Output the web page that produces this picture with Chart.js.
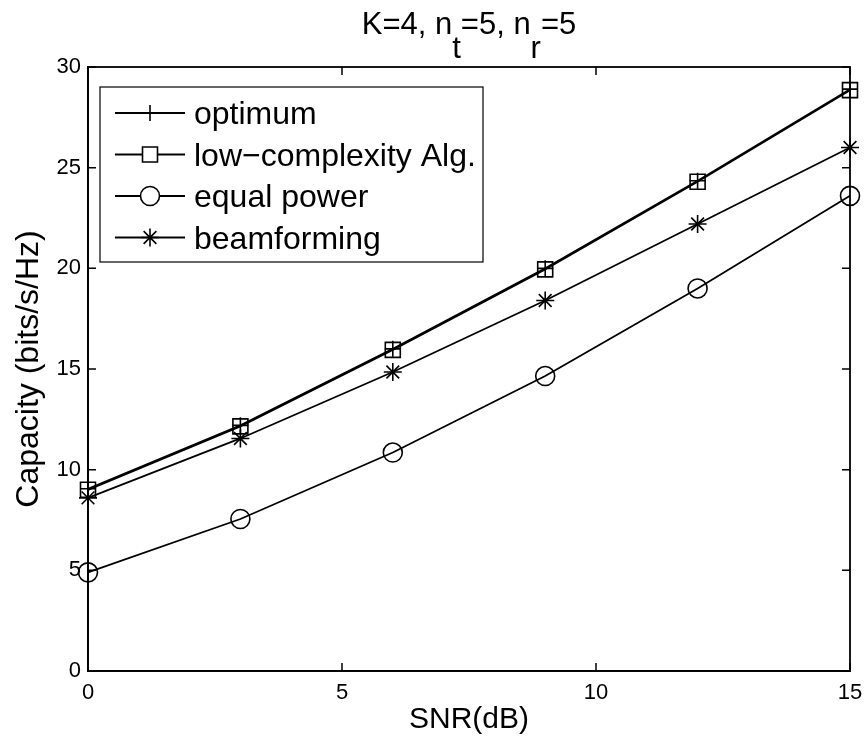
<!DOCTYPE html>
<html>
<head>
<meta charset="utf-8">
<script src="https://cdn.jsdelivr.net/npm/chart.js"></script>
<style>
  html, body { margin: 0; padding: 0; background: #fff; }
  #wrap { width: 865px; height: 744px; }
</style>
</head>
<body>
<div id="wrap"><canvas id="capacity" width="865" height="744"></canvas></div>
<script>
// SNR in dB (x axis)
const snrDb = [0, 3, 6, 9, 12, 15];

// capacity in bits/s/Hz
const optimum       = [9.05, 12.2, 16.0, 20.0, 24.35, 28.9];
const lowComplexity = [9.0, 12.15, 15.95, 19.95, 24.3, 28.85];
const equalPower    = [4.9, 7.55, 10.85, 14.65, 19.0, 23.6];
const beamforming   = [8.6, 11.55, 14.85, 18.4, 22.2, 26.0];

const xTicks = [0, 5, 10, 15];
const yTicks = [0, 5, 10, 15, 20, 25, 30];

const FONT = "'Liberation Sans', Arial, Helvetica, sans-serif";

function toPoints(ys) {
  return snrDb.map((x, i) => ({x: x, y: ys[i]}));
}

function series(label, ys, style, radius) {
  return {
    label: label,
    data: toPoints(ys),
    borderColor: '#000',
    backgroundColor: 'rgba(0,0,0,0)',
    borderWidth: 1.8,
    pointStyle: style,
    pointRadius: radius,
    pointBorderWidth: 1.6,
    pointBorderColor: '#000',
    pointBackgroundColor: 'rgba(0,0,0,0)',
    tension: 0,
    fill: false,
    clip: false
  };
}

// MATLAB style box with inward ticks on every side
const boxTicks = {
  id: 'boxTicks',
  afterDraw(chart) {
    const ctx = chart.ctx;
    const a = chart.chartArea;
    const xs = chart.scales.x, ys = chart.scales.y;
    const len = 8;
    ctx.save();
    ctx.strokeStyle = '#000';
    ctx.lineWidth = 1.5;
    ctx.beginPath();
    xTicks.forEach(v => {
      const px = xs.getPixelForValue(v);
      ctx.moveTo(px, a.bottom); ctx.lineTo(px, a.bottom - len);
      ctx.moveTo(px, a.top); ctx.lineTo(px, a.top + len);
    });
    yTicks.forEach(v => {
      const py = ys.getPixelForValue(v);
      ctx.moveTo(a.left, py); ctx.lineTo(a.left + len, py);
      ctx.moveTo(a.right, py); ctx.lineTo(a.right - len, py);
    });
    ctx.stroke();
    ctx.lineWidth = 1.8;
    ctx.strokeRect(a.left, a.top, a.right - a.left, a.bottom - a.top);
    ctx.restore();
  }
};

// title with subscripts: K=4, n_t=5, n_r=5
const subTitle = {
  id: 'subTitle',
  afterDraw(chart) {
    const ctx = chart.ctx;
    const parts = [['K=4, n', 0], ['t', 1], ['=5, n', 0], ['r', 1], ['=5', 0]];
    ctx.save();
    ctx.font = '31px ' + FONT;
    ctx.fillStyle = '#000';
    ctx.textBaseline = 'alphabetic';
    const total = parts.reduce((s, p) => s + ctx.measureText(p[0]).width, 0);
    const a = chart.chartArea;
    let x = (a.left + a.right) / 2 - total / 2;
    parts.forEach(p => {
      ctx.fillText(p[0], x, p[1] ? 58 : 34);
      x += ctx.measureText(p[0]).width;
    });
    ctx.restore();
  }
};

// boxed legend in the top-left corner, line sample through the marker
const boxLegend = {
  id: 'boxLegend',
  afterDatasetsDraw(chart) {
    const ctx = chart.ctx;
    const box = {left: 100, top: 87, right: 483, bottom: 262};
    const rows = [113, 154.5, 196, 237.5];
    ctx.save();
    ctx.fillStyle = '#fff';
    ctx.fillRect(box.left, box.top, box.right - box.left, box.bottom - box.top);
    ctx.strokeStyle = '#000';
    ctx.lineWidth = 1.2;
    ctx.strokeRect(box.left, box.top, box.right - box.left, box.bottom - box.top);
    chart.data.datasets.forEach((ds, i) => {
      const y = rows[i];
      ctx.strokeStyle = '#000';
      ctx.lineWidth = 1.8;
      ctx.beginPath();
      ctx.moveTo(115, y);
      ctx.lineTo(185, y);
      ctx.stroke();
      ctx.fillStyle = '#fff';
      ctx.lineWidth = ds.pointBorderWidth;
      Chart.helpers.drawPoint(ctx, {
        pointStyle: ds.pointStyle,
        radius: ds.pointRadius,
        borderWidth: ds.pointBorderWidth,
        rotation: 0
      }, 150, y);
      ctx.fillStyle = '#000';
      ctx.font = '32px ' + FONT;
      ctx.textBaseline = 'alphabetic';
      ctx.fillText(ds.label, 194, y + 11);
    });
    ctx.restore();
  }
};

new Chart(document.getElementById('capacity'), {
  type: 'line',
  data: {
    datasets: [
      series('optimum', optimum, 'cross', 8),
      series('low\u2212complexity Alg.', lowComplexity, 'rect', 10.6),
      series('equal power', equalPower, 'circle', 9.5),
      series('beamforming', beamforming, 'star', 9)
    ]
  },
  options: {
    responsive: false,
    animation: false,
    layout: {padding: {left: 0, right: 15, top: 67, bottom: 0}},
    plugins: {
      legend: {display: false},
      title: {display: false},
      tooltip: {enabled: false}
    },
    scales: {
      x: {
        type: 'linear',
        min: 0,
        max: 15,
        afterFit: s => { s.height = 73; s.paddingLeft = 0; s.paddingRight = 0; },
        afterBuildTicks: s => { s.ticks = xTicks.map(v => ({value: v})); },
        grid: {display: false, drawTicks: false},
        border: {display: true, color: '#000', width: 1.8},
        ticks: {color: '#000', font: {family: FONT, size: 22}, padding: 9, maxRotation: 0},
        title: {display: true, text: 'SNR(dB)', color: '#000', font: {family: FONT, size: 30}, padding: {top: 0, bottom: 6}}
      },
      y: {
        type: 'linear',
        min: 0,
        max: 30,
        afterFit: s => { s.width = 88; s.paddingTop = 0; s.paddingBottom = 0; },
        afterBuildTicks: s => { s.ticks = yTicks.map(v => ({value: v})); },
        grid: {display: false, drawTicks: false},
        border: {display: true, color: '#000', width: 1.8},
        ticks: {color: '#000', font: {family: FONT, size: 22}, padding: 7},
        title: {display: true, text: 'Capacity (bits/s/Hz)', color: '#000', font: {family: FONT, size: 32}, padding: {top: 10, bottom: 0}}
      }
    }
  },
  plugins: [boxTicks, boxLegend, subTitle]
});
</script>
</body>
</html>
